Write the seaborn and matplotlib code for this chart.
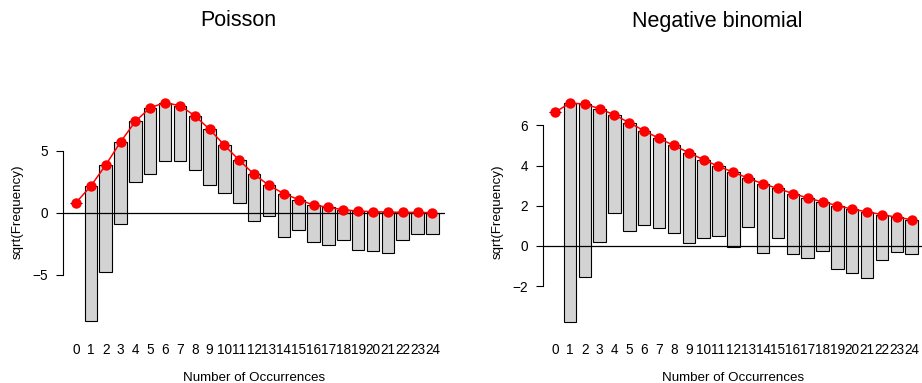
import numpy as np
import pandas as pd
import matplotlib
matplotlib.use("Agg")
import matplotlib.pyplot as plt
import seaborn as sns

# Counts 0..24 and the observed frequencies
occurrences = list(range(25))
observed = [0, 119, 74, 44, 24, 29, 22, 20, 19, 20, 15, 12, 14, 6, 12,
            6, 9, 9, 6, 10, 10, 11, 5, 3, 3]

# Fitted frequencies on the square-root scale
expected_sqrt_pois = [0.81, 2.15, 3.84, 5.70, 7.37, 8.47, 8.87, 8.63, 7.82,
                      6.72, 5.43, 4.22, 3.09, 2.20, 1.53, 1.05, 0.62, 0.43,
                      0.24, 0.13, 0.08, 0.05, 0.03, 0.02, 0.01]
expected_sqrt_nb = [6.65, 7.11, 7.06, 6.83, 6.52, 6.13, 5.73, 5.35, 5.00,
                    4.64, 4.29, 3.96, 3.67, 3.37, 3.09, 2.86, 2.61, 2.39,
                    2.19, 2.01, 1.83, 1.70, 1.56, 1.43, 1.31]

panel_titles = ["Poisson", "Negative binomial"]
panel_yticks = [[-5, 0, 5], [-2, 0, 2, 4, 6]]

sns.set_theme(style="ticks")
plt.rcParams["font.family"] = ["Liberation Sans", "DejaVu Sans"]

W, H = 922, 383
fig = plt.figure(figsize=(W / 100, H / 100), dpi=100)

# axes boxes in pixels: (left, right), common top/bottom
boxes = [(63, 445), (542.7, 924)]
top_px, bot_px = 94, 330
xlims = [(-0.875, 24.85), (-0.83, 24.83)]
ylims = [(-9.46, 9.57), (-4.18, 7.56)]
title_x = [238, 717.5]

panels = [expected_sqrt_pois, expected_sqrt_nb]

for i, exp_sqrt in enumerate(panels):
    l, r = boxes[i]
    ax = fig.add_axes([l / W, (H - bot_px) / H, (r - l) / W, (bot_px - top_px) / H])
    obs_sqrt = np.sqrt(np.array(observed, dtype=float))
    exp_arr = np.array(exp_sqrt)
    df = pd.DataFrame({
        "x": occurrences,
        "height": obs_sqrt,
        "bottom": exp_arr - obs_sqrt,
        "expected": exp_arr,
    })

    # hanging bars: each bar hangs from the fitted value
    sns.barplot(data=df, x="x", y="height", bottom=df["bottom"].values,
                native_scale=True, width=0.84, color="#D3D3D3",
                edgecolor="black", linewidth=0.8, errorbar=None,
                saturation=1, ax=ax, zorder=2)
    ax.axhline(0, color="black", linewidth=0.9, zorder=3)
    sns.lineplot(data=df, x="x", y="expected", color="red", linewidth=1.1,
                 marker="o", markersize=7.5, markeredgewidth=0,
                 markerfacecolor="red", ax=ax, zorder=4)

    ax.set_xlim(*xlims[i])
    ax.set_ylim(*ylims[i])
    ax.set_xticks(occurrences)
    ax.set_xticklabels([str(v) for v in occurrences])
    ax.set_yticks(panel_yticks[i])
    ax.tick_params(axis="x", length=0, pad=9, labelsize=9.8, colors="black")
    ax.tick_params(axis="y", length=5, width=0.8, pad=5.5, labelsize=9.8,
                   colors="black")
    for side in ("top", "right", "bottom"):
        ax.spines[side].set_visible(False)
    ax.spines["left"].set_bounds(panel_yticks[i][0], panel_yticks[i][-1])
    ax.spines["left"].set_linewidth(0.8)
    ax.spines["left"].set_color("black")

    ax.set_xlabel("Number of Occurrences", fontsize=9.6, color="black")
    ax.set_ylabel("sqrt(Frequency)", fontsize=9.6, color="black")
    ax.xaxis.set_label_coords(0.5, -0.178)
    ax.yaxis.set_label_coords(-0.102, 0.5)
    ax.set_facecolor("none")

    fig.text(title_x[i] / W, 1 - 21 / H, panel_titles[i], ha="center",
             va="center", fontsize=15.5, color="black")

fig.savefig("out.png", dpi=100)
